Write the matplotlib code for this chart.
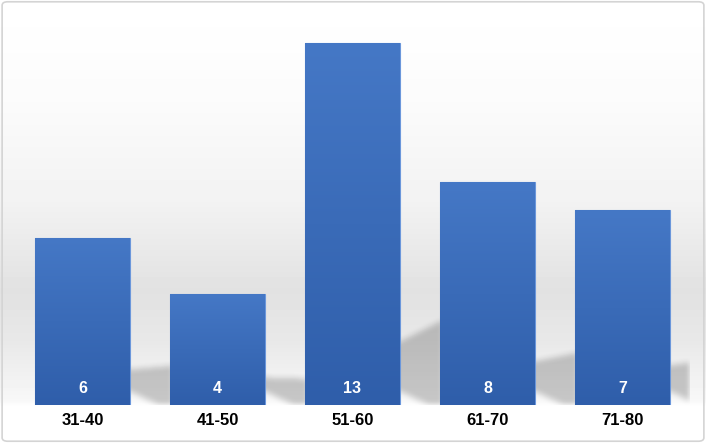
import numpy as np
import matplotlib
matplotlib.use('Agg')
import matplotlib.pyplot as plt
from matplotlib.colors import LinearSegmentedColormap
from matplotlib.patches import FancyBboxPatch
from matplotlib.path import Path

age_groups = ['31-40', '41-50', '51-60', '61-70', '71-80']
counts = [6, 4, 13, 8, 7]

plt.rcParams['font.family'] = ['Liberation Sans', 'DejaVu Sans']

W, H = 706, 443
fig = plt.figure(figsize=(W / 100, H / 100), dpi=100)

# background: white at the top, grey band in the lower part, white again at the base
bg = fig.add_axes([0, 0, 1, 1], zorder=0)
rows = np.arange(H)
shade = np.interp(rows, [0, 100, 200, 290, 340, 400, 406, H],
                  [1.0, 0.985, 0.95, 0.885, 0.91, 0.97, 1.0, 1.0])
bg.imshow(np.tile(shade[:, None], (1, W)), cmap='gray', vmin=0, vmax=1,
          aspect='auto', extent=[0, 1, 0, 1], interpolation='none')
bg.axis('off')

ax_px = (15, 38, 675, 390)
ax = fig.add_axes([ax_px[0] / W, ax_px[1] / H, ax_px[2] / W, ax_px[3] / H], zorder=1)
ax.patch.set_alpha(0)

x = np.arange(len(counts))
width = 0.7
xlim, ylim = (-0.5, 4.5), (0, 14)
bars = ax.bar(x, counts, width, color='#3d6fbf', edgecolor='#6b97db',
              linewidth=0.8, zorder=3)

# soft cast shadows to the right of each bar: rasterised mask, box-blurred
nx, ny = ax_px[2], ax_px[3]
gx = xlim[0] + (np.arange(nx) + 0.5) / nx * (xlim[1] - xlim[0])
gy = ylim[0] + (np.arange(ny) + 0.5) / ny * (ylim[1] - ylim[0])
XX, YY = np.meshgrid(gx, gy)
pts_grid = np.column_stack([XX.ravel(), YY.ravel()])
mask = np.zeros(XX.size)
for i, h in zip(x, counts):
    x1 = i + width / 2
    poly = [(x1 - 0.05, 0.6), (x1 - 0.05, 0.49 + 0.128 * h),
            (x1 + 0.32, 0.235 * h), (x1 + 0.32, 0), (x1 + 0.22, 0)]
    mask = np.maximum(mask, Path(poly).contains_points(pts_grid))
mask = mask.reshape(ny, nx)


def box_blur(a, r):
    k = np.ones(2 * r + 1) / (2 * r + 1)
    a = np.apply_along_axis(lambda v: np.convolve(v, k, mode='same'), 0, a)
    return np.apply_along_axis(lambda v: np.convolve(v, k, mode='same'), 1, a)


mask = box_blur(box_blur(mask, 3), 3)
rgba = np.zeros((ny, nx, 4))
rgba[..., 3] = 0.2 * mask
ax.imshow(rgba, origin='lower', aspect='auto', extent=[*xlim, *ylim],
          interpolation='none', zorder=2)

# vertical gradient inside the bars
blue = LinearSegmentedColormap.from_list('blue', ['#2f5eaa', '#4578c6'])
grad = np.linspace(0, 1, 200)[:, None]
for b in bars:
    x0, w, h = b.get_x(), b.get_width(), b.get_height()
    im = ax.imshow(grad, cmap=blue, origin='lower', aspect='auto',
                   extent=[x0, x0 + w, 0, h], zorder=3.5)
    im.set_clip_path(b)

for i, c in zip(x, counts):
    ax.text(i, 0.61, str(c), color='white', fontweight='bold', fontsize=11.5,
            ha='center', va='center', zorder=5)

ax.set_xlim(*xlim)
ax.set_ylim(*ylim)
ax.set_xticks(x, age_groups, fontweight='bold', fontsize=12)
ax.tick_params(axis='x', length=0, pad=6)
ax.set_yticks([])
for s in ax.spines.values():
    s.set_visible(False)

fig.patches.append(FancyBboxPatch((0.003, 0.004), 0.994, 0.992,
                                  boxstyle='round,pad=0,rounding_size=0.008',
                                  transform=fig.transFigure, fill=False,
                                  edgecolor='#d4d4d4', linewidth=1.2))

fig.savefig('out.png', dpi=100)
